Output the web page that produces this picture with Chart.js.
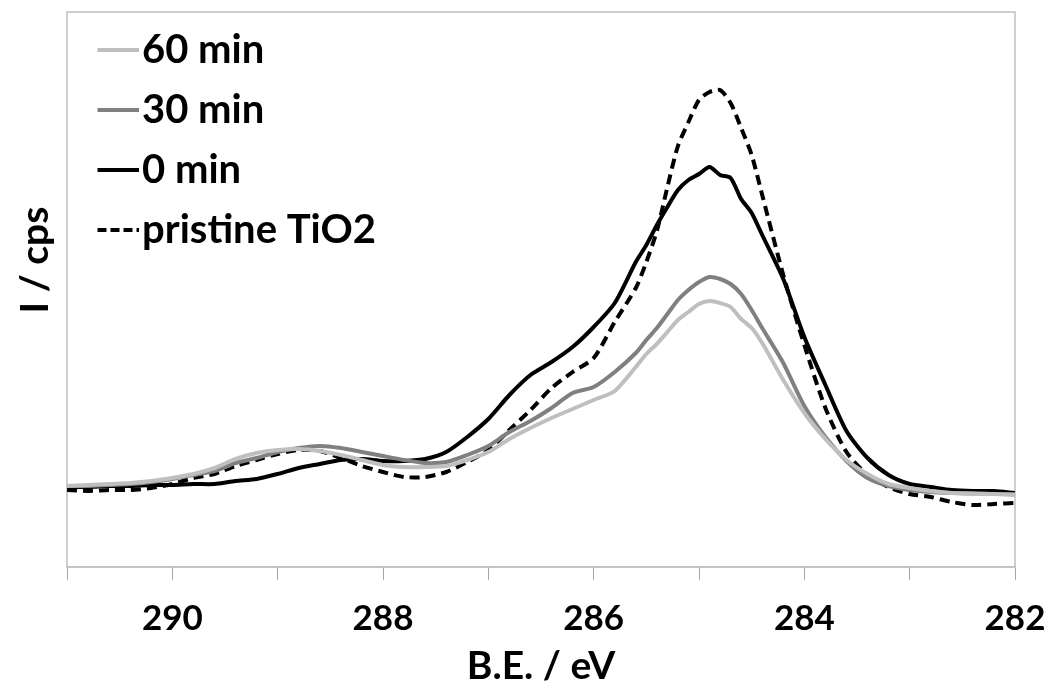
<!DOCTYPE html>
<html>
<head>
<meta charset="utf-8">
<script src="https://cdn.jsdelivr.net/npm/chart.js@4/dist/chart.umd.min.js"></script>
<style>
  html, body { margin: 0; padding: 0; background: #fff; }
  #wrap { width: 1047px; height: 686px; }
</style>
</head>
<body>
<div id="wrap"><canvas id="chartXps"></canvas></div>
<script>
// C 1s region, binding energy (eV) shared by all series
const energy = [
  291.0, 290.8, 290.6, 290.4, 290.2, 290.0, 289.8, 289.6, 289.4, 289.2,
  289.0, 288.8, 288.6, 288.4, 288.2, 288.0, 287.8, 287.6, 287.4, 287.2,
  287.0, 286.8, 286.6, 286.4, 286.2, 286.0, 285.8, 285.6, 285.5, 285.4,
  285.3, 285.2, 285.1, 285.0, 284.9, 284.8, 284.7, 284.6, 284.5, 284.4,
  284.2, 284.0, 283.8, 283.6, 283.4, 283.2, 283.0, 282.8, 282.6, 282.4,
  282.2, 282.0
];

// intensities (arbitrary cps units)
const min60 = [
  81, 82, 83, 84, 86, 89, 93, 99, 108, 114,
  117, 118, 116, 112, 107, 102, 100, 100, 101, 107,
  115, 128, 139, 149, 158, 167, 176, 200, 213, 223,
  235, 247, 255, 263, 266, 264, 260, 248, 239, 224,
  187, 154, 128, 107, 93, 83, 79, 76, 74, 73,
  73, 72
];
const min30 = [
  81, 81, 82, 83, 85, 88, 92, 96, 104, 109,
  115, 119, 121, 119, 115, 111, 107, 104, 105, 112,
  121, 135, 146, 159, 174, 180, 195, 214, 227, 239,
  253, 267, 277, 285, 290, 288, 283, 273, 257, 239,
  204, 161, 130, 106, 89, 81, 77, 75, 74, 74,
  73, 73
];
const min0 = [
  80, 80, 81, 81, 82, 82, 83, 83, 86, 88,
  93, 99, 103, 107, 108, 106, 106, 108, 115, 130,
  148, 172, 192, 205, 220, 240, 264, 305, 322, 342,
  360, 377, 387, 393, 400, 392, 389, 368, 354, 332,
  288, 230, 182, 136, 109, 92, 83, 80, 77, 76,
  76, 74
];
const pristine = [
  77, 76, 77, 77, 79, 83, 89, 93, 101, 107,
  113, 117, 116, 109, 101, 95, 90, 90, 95, 105,
  117, 137, 157, 179, 195, 209, 245, 279, 305, 336,
  380, 421, 445, 467, 475, 477, 464, 439, 412, 372,
  292, 222, 159, 115, 92, 80, 73, 70, 65, 62,
  63, 64
];

const seriesNames = ['60 min', '30 min', '0 min', 'pristine TiO2'];
const xTitle = 'B.E. / eV';
const yTitle = 'I / cps';

const fontFamily = "Lato, 'Open Sans', sans-serif";
const axisGray = '#a6a6a6';

const toPoints = arr => energy.map((e, i) => ({ x: e, y: arr[i] }));

// little line swatch for the legend (canvas pointStyle keeps the dash pattern)
function swatch(color, dash) {
  const c = document.createElement('canvas');
  c.width = 68;
  c.height = 6;
  const g = c.getContext('2d');
  g.strokeStyle = color;
  g.lineWidth = 4;
  g.setLineDash(dash);
  g.beginPath();
  g.moveTo(27, 3);
  g.lineTo(68, 3);
  g.stroke();
  return c;
}

// plot frame + rotated y title (placed like the original, not centred on the area)
const framePlugin = {
  id: 'frame',
  beforeDatasetsDraw(chart) {
    const { ctx, chartArea: a } = chart;
    ctx.save();
    ctx.strokeStyle = '#bfbfbf';
    ctx.lineWidth = 1.5;
    ctx.strokeRect(a.left, a.top, a.right - a.left, a.bottom - a.top);
    ctx.restore();
  },
  afterDraw(chart) {
    const { ctx } = chart;
    ctx.save();
    ctx.translate(35, 260);
    ctx.rotate(-Math.PI / 2);
    ctx.font = `bold 39px ${fontFamily}`;
    ctx.fillStyle = '#000';
    ctx.textAlign = 'center';
    ctx.textBaseline = 'middle';
    ctx.fillText(yTitle, 0, 0);
    ctx.restore();
  }
};

new Chart(document.getElementById('chartXps'), {
  type: 'line',
  data: {
    datasets: [
      { label: seriesNames[0], data: toPoints(min60), borderColor: '#bfbfbf', pointStyle: swatch('#bfbfbf', []) },
      { label: seriesNames[1], data: toPoints(min30), borderColor: '#808080', pointStyle: swatch('#808080', []) },
      { label: seriesNames[2], data: toPoints(min0), borderColor: '#000000', pointStyle: swatch('#000000', []) },
      { label: seriesNames[3], data: toPoints(pristine), borderColor: '#000000', borderDash: [10, 6], pointStyle: swatch('#000000', [9, 4]) },
    ].map(d => Object.assign(d, { borderWidth: 4, pointRadius: 0, tension: 0.25, fill: false }))
  },
  options: {
    responsive: true,
    maintainAspectRatio: false,
    animation: false,
    layout: { padding: { left: 0, top: 12, right: 32, bottom: 0 } },
    plugins: {
      tooltip: { enabled: false },
      legend: {
        position: 'chartArea',
        align: 'start',
        title: { display: true, text: ' ', padding: 0, font: { size: 10, lineHeight: 1 } },
        labels: {
          usePointStyle: true,
          pointStyleWidth: 35,
          color: '#000',
          padding: 20,
          font: { family: fontFamily, size: 40, weight: 'bold' },
        },
      },
    },
    scales: {
      x: {
        type: 'linear',
        reverse: true,
        min: 282,
        max: 291,
        afterFit: axis => {
          axis.height = 119;
          axis.paddingLeft = 0;
          axis.paddingRight = 0;
        },
        grid: { drawOnChartArea: false, drawTicks: true, tickLength: 13, color: axisGray },
        border: { color: '#bfbfbf', width: 1.5 },
        ticks: {
          stepSize: 1,
          autoSkip: false,
          maxRotation: 0,
          padding: 18,
          color: '#000',
          font: { family: fontFamily, size: 35, weight: 'bold' },
          callback: v => (v % 2 === 0 ? String(v) : ''),
        },
        title: {
          display: true,
          text: xTitle,
          color: '#000',
          padding: { top: 0, bottom: 0 },
          font: { family: fontFamily, size: 39, weight: 'bold', lineHeight: 1.0 },
        },
      },
      y: {
        min: 0,
        max: 555,
        afterFit: axis => { axis.width = 67; },
        grid: { display: false },
        border: { display: false },
        ticks: { display: false },
      },
    },
  },
  plugins: [framePlugin],
});
</script>
</body>
</html>
